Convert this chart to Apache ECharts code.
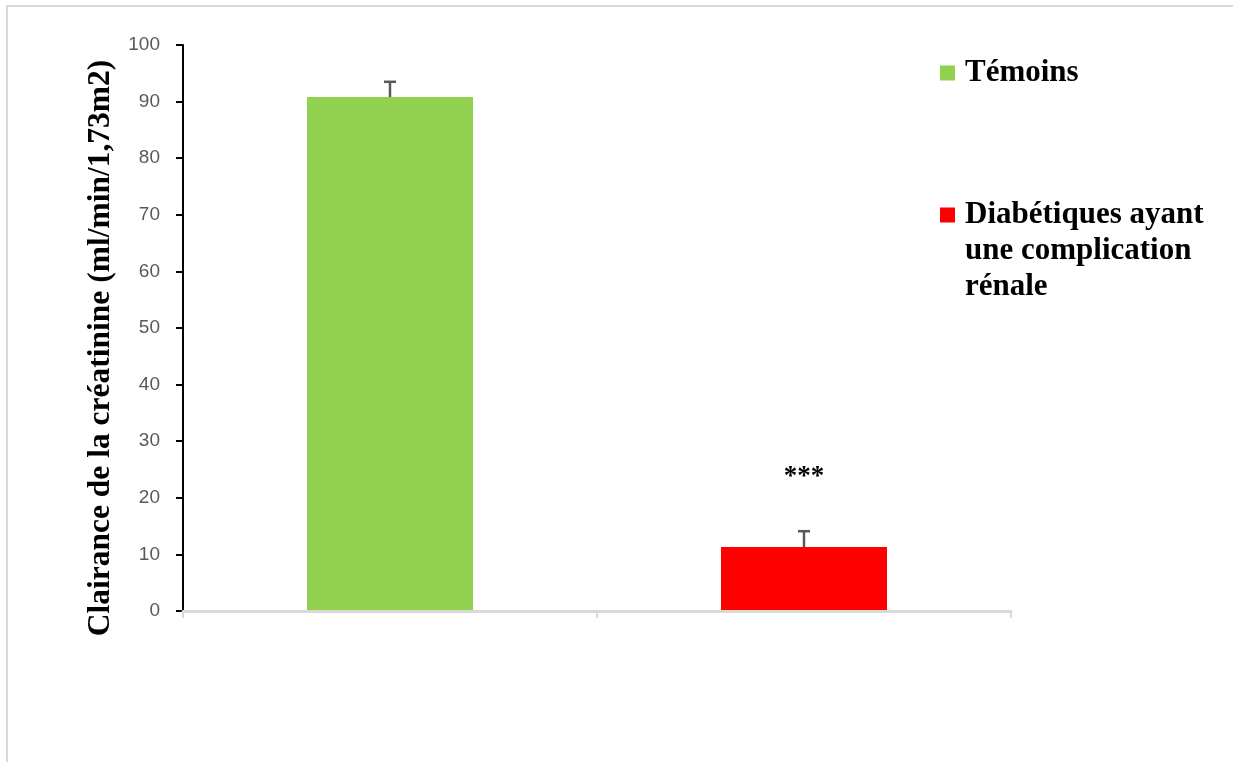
<!DOCTYPE html>
<html>
<head>
<meta charset="utf-8">
<script src="https://cdn.jsdelivr.net/npm/echarts@6/dist/echarts.min.js"></script>
<style>
  html, body { margin: 0; padding: 0; background: #fff; }
  #frame { position: absolute; left: 6px; top: 5px; width: 1227px; height: 757px;
           border-top: 2px solid #d9d9d9; border-left: 2px solid #d9d9d9; }
  #chart { position: absolute; left: 0; top: 0; width: 1233px; height: 762px; }
</style>
</head>
<body>
<div id="frame"></div>
<div id="chart"></div>
<script>
// ---- data ----
const categories = ['Témoins', 'Diabétiques ayant une complication rénale'];
const legendLabels = ['Témoins', 'Diabétiques ayant\nune complication\nrénale'];
const meanValues = [90.8, 11.3];
const errorValues = [2.7, 2.8];
const significance = ['', '***'];
const barColors = ['#92d050', '#ff0000'];
const yMin = 0, yMax = 100, yInterval = 10;
const yAxisTitle = 'Clairance de la créatinine (ml/min/1,73m2)';

const chart = echarts.init(document.getElementById('chart'), null, { renderer: 'canvas' });

const barSeries = categories.map((name, i) => ({
  name: name,
  type: 'bar',
  barWidth: 166,
  barGap: '-100%',
  itemStyle: { color: barColors[i] },
  data: categories.map((c, j) => (j === i ? meanValues[j] : null)),
  z: 2
}));

const errorSeries = {
  type: 'custom',
  name: 'errors',
  z: 5,
  data: meanValues.map((m, i) => [i, m, m + errorValues[i], significance[i]]),
  renderItem: function (params, api) {
    const x = api.value(0);
    const base = api.coord([x, api.value(1)]);
    const top = api.coord([x, api.value(2)]);
    const half = 6;
    const style = { stroke: '#595959', lineWidth: 2.5 };
    const children = [
      { type: 'line', shape: { x1: base[0], y1: base[1], x2: top[0], y2: top[1] }, style: style },
      { type: 'line', shape: { x1: top[0] - half, y1: top[1], x2: top[0] + half, y2: top[1] }, style: style }
    ];
    const sig = significance[params.dataIndex];
    if (sig) {
      children.push({
        type: 'text',
        style: {
          text: sig, x: top[0], y: top[1] - 54,
          align: 'center', verticalAlign: 'middle',
          font: 'bold 27px "Liberation Serif"', fill: '#000'
        }
      });
    }
    return { type: 'group', children: children };
  }
};

// pad multi-line legend text so its first line sits level with the icon
function legendText(label) {
  const n = label.split('\n').length;
  return '\n'.repeat(n - 1) + label;
}

const legendFont = { fontFamily: 'Liberation Serif', fontWeight: 'bold', fontSize: 31, color: '#000', lineHeight: 36 };

chart.setOption({
  animation: false,
  backgroundColor: 'transparent',
  grid: { left: 183, right: 222, top: 45, bottom: 151, containLabel: false },
  legend: [
    {
      data: [categories[0]], orient: 'vertical', left: 940, top: 55, padding: 0,
      itemWidth: 15, itemHeight: 15, icon: 'rect',
      formatter: () => legendText(legendLabels[0]),
      textStyle: Object.assign({}, legendFont, { padding: [0, 0, 0, 5] })
    },
    {
      data: [categories[1]], orient: 'vertical', left: 940, top: 125, padding: 0,
      itemWidth: 15, itemHeight: 15, icon: 'rect',
      formatter: () => legendText(legendLabels[1]),
      textStyle: Object.assign({}, legendFont, { padding: [0, 0, 0, 5] })
    }
  ],
  xAxis: {
    type: 'category',
    data: categories,
    boundaryGap: true,
    axisLine: { lineStyle: { color: '#d9d9d9', width: 3 } },
    axisTick: { show: true, alignWithLabel: false, length: 7, lineStyle: { color: '#d9d9d9', width: 2 } },
    axisLabel: { show: false },
    splitLine: { show: false },
    z: 3
  },
  yAxis: {
    type: 'value',
    min: yMin, max: yMax, interval: yInterval,
    name: yAxisTitle,
    nameLocation: 'middle',
    nameGap: 66,
    nameRotate: 90,
    nameTextStyle: { fontFamily: 'Liberation Serif', fontWeight: 'bold', fontSize: 31.5, color: '#000', padding: [0, 40, 0, 0] },
    axisLine: { show: true, lineStyle: { color: '#000', width: 2 } },
    axisTick: { show: true, length: 7, lineStyle: { color: '#000', width: 2 } },
    axisLabel: { margin: 23, color: '#595959', fontFamily: 'Liberation Sans', fontSize: 19 },
    splitLine: { show: false }
  },
  series: barSeries.concat([errorSeries])
});
</script>
</body>
</html>
